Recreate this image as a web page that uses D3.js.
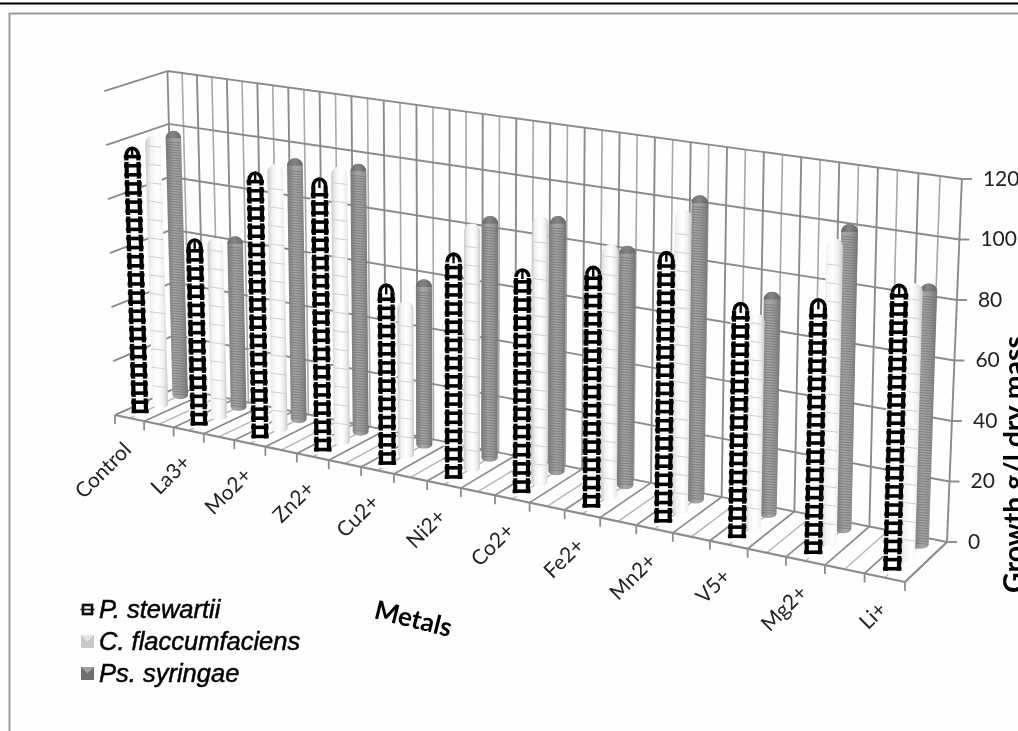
<!DOCTYPE html>
<html><head><meta charset="utf-8">
<script src="https://cdn.jsdelivr.net/npm/d3@7/dist/d3.min.js"></script>
<style>html,body{margin:0;padding:0;background:#fff;overflow:hidden}svg{display:block}</style>
</head><body><div id="chart"></div>
<script>
const categories = ["Control","La3+","Mo2+","Zn2+","Cu2+","Ni2+","Co2+","Fe2+","Mn2+","V5+","Mg2+","Li+"];
const seriesNames = ["P. stewartii","C. flaccumfaciens","Ps. syringae"];
const pStewartii = [99,68.8,97,98.5,64.5,79.5,78,83,92,79,84.5,93.5];
const cFlaccumfaciens = [100.5,66,96.8,99.5,55,86.5,93,87,102.7,71.5,100.7,90];
const psSyringae = [99.6,63.6,96.1,97.6,59.5,86,89.7,83.1,104.3,75.3,102,86.3];
const yTicks = [0,20,40,60,80,100,120];
const W = 1018, H = 731;

// projection of the chart box
const floorQuad = [[115,415],[905,582],[947,542],[176,388]];
function homography(q){
  const [[x0,y0],[x1,y1],[x2,y2],[x3,y3]] = q;
  const dx1=x1-x2,dx2=x3-x2,sx=x0-x1+x2-x3,dy1=y1-y2,dy2=y3-y2,sy=y0-y1+y2-y3;
  const den=dx1*dy2-dx2*dy1, g=(sx*dy2-dx2*sy)/den, h=(dx1*sy-sx*dy1)/den;
  const a=x1-x0+g*x1,b=x3-x0+h*x3,c=x0,d=y1-y0+g*y1,e=y3-y0+h*y3,f=y0;
  return (u,v)=>{const w=g*u+h*v+1;return [(a*u+b*v+c)/w,(d*u+e*v+f)/w];};
}
const hFloor=homography(floorQuad);
const topFront=d3.scaleLinear().domain([104,919]).range([91,211]);
const topBack=d3.scaleLinear().domain([167,962]).range([71,179]);
const leanScale=d3.scaleLinear().domain([115,450,893,947]).range([-0.033,0,0.025,0.041]);
const xScale=d3.scalePoint().domain(categories).range([0.5/23,22.5/23]);
const zScale=d3.scalePoint().domain(seriesNames).range([0.17,0.83]);
const yScale=d3.scaleLinear().domain([0,120]).range([0,1]);
const warp=u=>u+0.012*Math.sin(Math.PI*u);
function project(u0,v,val){
  const a=hFloor(warp(u0),v),lean=leanScale(a[0]);
  let x=a[0],yT=a[1];
  for(let k=0;k<3;k++){
    yT=topFront(x)*(1-v)+topBack(x)*v;
    x=a[0]+lean*(a[1]-yT);
  }
  const t=yScale(val);
  return [a[0]+(x-a[0])*t,a[1]+(yT-a[1])*t];
}
const line=d3.line();
const svg=d3.select("#chart").append("svg").attr("width",W).attr("height",H).attr("viewBox",`0 0 ${W} ${H}`);
const defs=svg.append("defs");
defs.append("filter").attr("id","soft").attr("x","-5%").attr("y","-5%").attr("width","110%").attr("height","110%")
  .append("feGaussianBlur").attr("stdDeviation",0.55);
defs.append("filter").attr("id","softText").attr("x","-5%").attr("y","-5%").attr("width","110%").attr("height","110%")
  .append("feGaussianBlur").attr("stdDeviation",0.4);
function grad(id,stops){
  const g=defs.append("linearGradient").attr("id",id).attr("x1",0).attr("x2",1).attr("y1",0).attr("y2",0);
  stops.forEach(s=>g.append("stop").attr("offset",s[0]).attr("stop-color",s[1]));
}
grad("gWhite",[[0,"#c8c8c8"],[0.25,"#f2f2f2"],[0.55,"#ffffff"],[0.8,"#eeeeee"],[1,"#c6c6c6"]]);
grad("gGrey",[[0,"#7c7c7c"],[0.4,"#a6a6a6"],[0.7,"#9a9a9a"],[1,"#777777"]]);
grad("gDome",[[0,"#6a6a6a"],[0.45,"#858585"],[1,"#666666"]]);

svg.append("rect").attr("width",W).attr("height",H).attr("fill","#fefefe");
// page frame
svg.append("rect").attr("x",0).attr("y",2.5).attr("width",W).attr("height",2).attr("fill","#000");
svg.append("path").attr("d",line([[9.5,H],[9.5,13.5],[W,13.5]])).attr("fill","none").attr("stroke","#9a9a9a").attr("stroke-width",2);

const chart=svg.append("g").attr("filter","url(#soft)");
const grid=chart.append("g").attr("fill","none").attr("stroke-linecap","butt");
const seg=(p,q,col,w)=>grid.append("path").attr("d",line([p,q])).attr("stroke",col).attr("stroke-width",w);
const dark="#8b8b8b", light="#a8a8a8";
const nDiv=46;
// back wall verticals
d3.range(0,nDiv+1).forEach(i=>{
  const u=i/nDiv;
  seg(project(u,1,0),project(u,1,120),i%2?light:dark,i%2?1.6:1.9);
});
// floor lines and front ticks
d3.range(0,nDiv+1).forEach(i=>{
  const u=i/nDiv;
  seg(project(u,0,0),project(u,1,0),i%2?"#b4b4b4":dark,i%2?1.4:1.7);
  if(i%2===0){const p=project(u,0,0);seg(p,[p[0],p[1]+9],dark,1.8);}
});
// horizontal levels
yTicks.forEach(v=>{
  seg(project(0,1,v),project(1,1,v),dark,1.9);
  seg(project(0,0,v),project(0,1,v),dark,1.9);
  const p=project(1,1,v);seg(p,[p[0]+10,p[1]],dark,1.9);
});
seg(project(0,0,0),project(1,0,0),dark,2.2);
seg(project(1,0,0),project(1,1,0),dark,2);

// bars
const widthScale=d3.scaleLinear().domain([0,1]).range([15.5,17]);
const seriesData=[[seriesNames[2],psSyringae,"grey"],[seriesNames[1],cFlaccumfaciens,"white"],[seriesNames[0],pStewartii,"black"]];
function barGeom(cat,name,val){
  const u=xScale(cat),v=zScale(name);
  const b=project(u,v,0),t=project(u,v,val),w=widthScale(u),r=w/2;
  const len=Math.hypot(t[0]-b[0],t[1]-b[1]);
  const dx=(t[0]-b[0])/len,dy=(t[1]-b[1])/len;
  const at=(s,o)=>[b[0]+dx*s+o,b[1]+dy*s];
  return {b,t,w,r,len,at};
}
function barPath(g){
  const top=g.len-g.r*0.95, ry=g.r*0.5;
  const L=g.at(top,-g.r),R=g.at(top,g.r),BL=g.at(0,-g.r),BR=g.at(0,g.r);
  return `M${L}A${g.r} ${g.r*0.95} 0 0 1 ${R}L${BR}A${g.r} ${ry} 0 0 1 ${BL}Z`;
}
const barsG=chart.append("g");
seriesData.forEach(([name,vals,kind])=>{
  const sg=barsG.append("g").attr("class","series-"+kind);
  categories.forEach((cat,i)=>{
    const g=barGeom(cat,name,vals[i]);
    const bar=sg.append("g").attr("class","bar");
    if(kind==="grey"){
      bar.append("path").attr("d",barPath(g)).attr("fill","url(#gGrey)");
      for(let s=1.5;s<g.len-g.r*1.3;s+=2.6){
        const a=g.at(s,-g.r+0.5),c=g.at(s,g.r-0.5),sl=1.2;
        bar.append("path").attr("d",line([a,[c[0],c[1]+sl]])).attr("stroke","#6e6e6e").attr("stroke-width",0.9).attr("fill","none").attr("opacity",0.75);
      }
      const top=g.len-g.r*0.95,L=g.at(top,-g.r),R=g.at(top,g.r);
      bar.append("path").attr("d",`M${L}A${g.r} ${g.r*0.95} 0 0 1 ${R}Z`).attr("fill","url(#gDome)");
    } else if(kind==="white"){
      bar.append("path").attr("d",barPath(g)).attr("fill","url(#gWhite)");
      for(let s=18.5;s<g.len-g.r;s+=18.5){
        const a=g.at(s,-g.r),c=g.at(s,g.r);
        bar.append("path").attr("d",line([a,[c[0],c[1]+2]])).attr("stroke","#d0d0d0").attr("stroke-width",1).attr("fill","none");
      }
    } else {
      const P=18.2, R0=g.r+0.8, rr=R0-2.6, ink="#050505";
      const stroke=(pts,w,col)=>bar.append("path").attr("d",line(pts)).attr("stroke",col||ink).attr("stroke-width",w).attr("fill","none");
      const topS=g.len-R0;
      bar.append("path").attr("d",barPath(g)).attr("fill","#fff");
      // two rails
      [-rr,rr].forEach(o=>stroke([g.at(0,o),g.at(topS,o)],4.2));
      // rungs at half the tile period, overshooting the rails
      for(let s=2;s<topS;s+=P/2){
        stroke([g.at(s,-R0),g.at(s,R0)],3.6);
      }
      // pale break across the band between tiles
      for(let s=2+P*0.75;s<topS;s+=P){
        stroke([g.at(s,-R0-1),g.at(s,R0+1)],1.5,"#fff");
      }
      // dome of the tile bar
      const L=g.at(topS,-rr),R=g.at(topS,rr);
      bar.append("path").attr("d",`M${L}A${rr} ${R0*0.8} 0 0 1 ${R}`).attr("stroke",ink).attr("stroke-width",3.6).attr("fill","none");
      stroke([g.at(topS-2,0),g.at(g.len-1,0)],2.4);
    }
  });
});

// text
const textG=svg.append("g").attr("filter","url(#softText)");
categories.forEach(c=>{
  const p=project(xScale(c),0,0);
  textG.append("text").attr("transform",`translate(${p[0]+3},${p[1]+33}) rotate(-45)`)
    .attr("text-anchor","end").attr("font-family","Lato").attr("font-size",21).attr("fill","#222").text(c);
});
yTicks.forEach(v=>{
  const p=project(1,1,v);
  textG.append("text").attr("x",p[0]+21).attr("y",p[1]+7).attr("font-family","Lato").attr("font-size",21).attr("fill","#222").text(v);
});
textG.append("text").attr("transform","translate(373,618) rotate(14)").attr("font-family","Lato").attr("font-weight",700).attr("font-size",26).attr("fill","#000").text("Metals");
textG.append("text").attr("transform","translate(1024,593) rotate(-90)").attr("font-family","Lato").attr("font-size",28.5).attr("font-weight",700).attr("fill","#000").text("Growth g/l dry mass");

// legend
const legendY=d3.scaleLinear().domain([0,2]).range([618,682]);
seriesNames.forEach((n,i)=>{
  const y=legendY(i);
  textG.append("text").attr("x",99).attr("y",y).attr("font-family","Liberation Sans").attr("font-style","italic")
    .attr("font-size",25.5).attr("fill","#000").attr("stroke","#000").attr("stroke-width",0.5).text(n);
  const mk=textG.append("g").attr("transform",`translate(81,${y-15})`);
  if(i===0){
    mk.append("rect").attr("x",2).attr("y",2).attr("width",9).attr("height",9).attr("fill","#fff").attr("stroke","#111").attr("stroke-width",2.6);
    mk.append("path").attr("d","M-0.5 6.5H13.5").attr("stroke","#111").attr("stroke-width",1.6);
  } else {
    const c=i===1?["#e6e6e6","#c8c8c8"]:["#a0a0a0","#6e6e6e"];
    mk.append("rect").attr("width",13).attr("height",13).attr("fill",c[0]);
    mk.append("path").attr("d","M0 0L6.5 6.5L13 0V13H0Z").attr("fill",c[1]);
  }
});
</script></body></html>
